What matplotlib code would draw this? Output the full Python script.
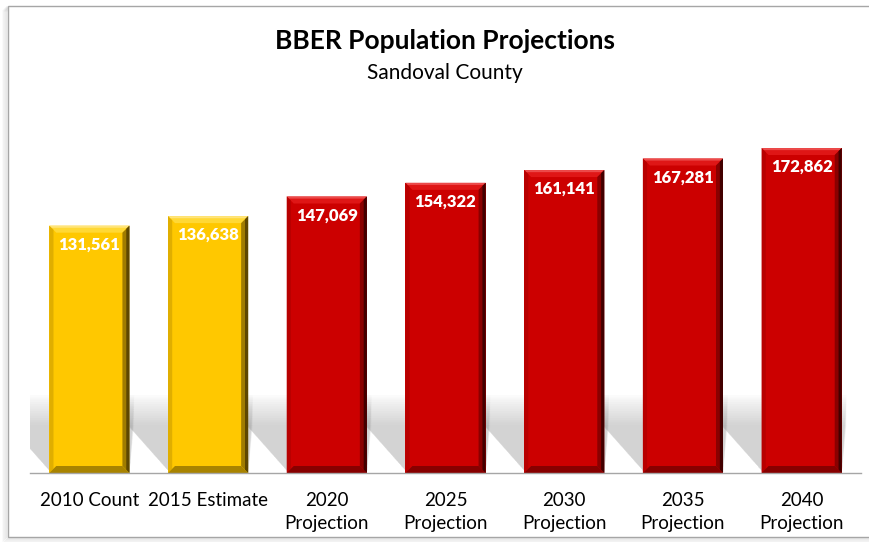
import matplotlib
matplotlib.use("Agg")
import matplotlib.pyplot as plt
from matplotlib.patches import Polygon, Rectangle
import numpy as np

categories = ["2010 Count", "2015 Estimate", "2020\nProjection", "2025\nProjection",
              "2030\nProjection", "2035\nProjection", "2040\nProjection"]
values = [131561, 136638, 147069, 154322, 161141, 167281, 172862]
kinds = ["actual", "actual", "proj", "proj", "proj", "proj", "proj"]
title = "BBER Population Projections"
subtitle = "Sandoval County"

FONT = ["Lato", "DejaVu Sans"]
plt.rcParams["font.family"] = FONT

W, H = 869, 542
fig = plt.figure(figsize=(W / 100, H / 100), dpi=100)
fig.patch.set_facecolor("white")

# outer frame with soft shadow
for i in range(1, 6):
    fig.patches.append(Rectangle(((8 - i) / W, (H - 537 - i) / H), 900 / W, (537 - 6) / H,
                                 transform=fig.transFigure, facecolor="none",
                                 edgecolor=(0.45, 0.45, 0.45, 0.12 - i * 0.015), lw=1.2, zorder=-3))
fig.patches.append(Rectangle((8 / W, (H - 537) / H), 900 / W, (537 - 6) / H,
                             transform=fig.transFigure, facecolor="white",
                             edgecolor="#A6A6A6", lw=1.0, zorder=-2))

ax_l, ax_r, ax_b, ax_t = 30, 861, 473, 97
ax = fig.add_axes([ax_l / W, (H - ax_b) / H, (ax_r - ax_l) / W, (ax_b - ax_t) / H])
ax.set_zorder(1)
ax.set_facecolor("none")
ymax = 200000
n = len(values)
ax.set_xlim(-0.5, n - 0.5)
ax.set_ylim(0, ymax)

px_x = n / (ax_r - ax_l)          # data x units per pixel
px_y = ymax / (ax_b - ax_t)       # data y units per pixel

bw = 0.675
x = np.arange(n)

palette = {
    "actual": dict(main="#FFC800", top="#FFD835", topedge="#FFE47A", right="#5E4700",
                   right2="#A07C00", bottom="#A88300", left="#E0AE00"),
    "proj": dict(main="#CC0000", top="#DF1616", topedge="#EC4A4A", right="#420000",
                 right2="#8A0000", bottom="#870000", left="#B80000"),
}

# soft cast shadows (extend up-left from each bar's base)
for xi in x:
    xl, xr = xi - bw / 2, xi + bw / 2
    for k in range(14):
        hh = (48 + k * 2.3) * px_y
        dx = 0.50 * hh / (70 * px_y)
        poly = Polygon([(xl + 0.02, 0), (xr, 0), (xr + 0.04, hh), (xl - dx, hh)],
                       closed=True, facecolor=(0.62, 0.62, 0.62, 0.035), edgecolor="none", zorder=1)
        ax.add_patch(poly)

# bars with bevel
bx = 7 * px_x
by = 7 * px_y
for xi, v, kd in zip(x, values, kinds):
    c = palette[kd]
    xl, xr = xi - bw / 2, xi + bw / 2
    ax.bar(xi, v, width=bw, color=c["main"], edgecolor="none", zorder=3)
    # top bevel
    ax.add_patch(Polygon([(xl, v), (xr, v), (xr - bx, v - by), (xl + bx, v - by)],
                         facecolor=c["top"], edgecolor="none", zorder=4))
    ax.add_patch(Polygon([(xl, v), (xr, v), (xr - bx * 0.3, v - by * 0.3), (xl + bx * 0.3, v - by * 0.3)],
                         facecolor=c["topedge"], edgecolor="none", zorder=4))
    # left bevel
    ax.add_patch(Polygon([(xl, v), (xl + bx * 0.6, v - by * 0.6), (xl + bx * 0.6, by * 0.6), (xl, 0)],
                         facecolor=c["left"], edgecolor="none", zorder=4))
    # right bevel
    ax.add_patch(Polygon([(xr, v), (xr - bx, v - by), (xr - bx, by), (xr, 0)],
                         facecolor=c["right2"], edgecolor="none", zorder=4))
    ax.add_patch(Polygon([(xr, v), (xr - bx * 0.45, v - by * 0.45), (xr - bx * 0.45, by * 0.45), (xr, 0)],
                         facecolor=c["right"], edgecolor="none", zorder=4))
    # bottom bevel
    ax.add_patch(Polygon([(xl, 0), (xr, 0), (xr - bx, by), (xl + bx, by)],
                         facecolor=c["bottom"], edgecolor="none", zorder=4))
    ax.text(xi, v - 19 * px_y, f"{v:,}", ha="center", va="center", color="white",
            fontsize=12, fontweight="heavy", zorder=5)

for s in ["top", "right", "left"]:
    ax.spines[s].set_visible(False)
ax.spines["bottom"].set_color("#A6A6A6")
ax.spines["bottom"].set_linewidth(1.0)
ax.spines["bottom"].set_zorder(6)
ax.set_yticks([])
ax.set_xticks(x)
ax.set_xticklabels(categories, fontsize=13.5, linespacing=1.42, va="top")
ax.tick_params(axis="x", length=0, pad=14)

fig.text(445 / W, 1 - 41 / H, title, ha="center", va="center", fontsize=19, fontweight="bold")
fig.text(445 / W, 1 - 73 / H, subtitle, ha="center", va="center", fontsize=15)

fig.savefig("out.png", dpi=100)
